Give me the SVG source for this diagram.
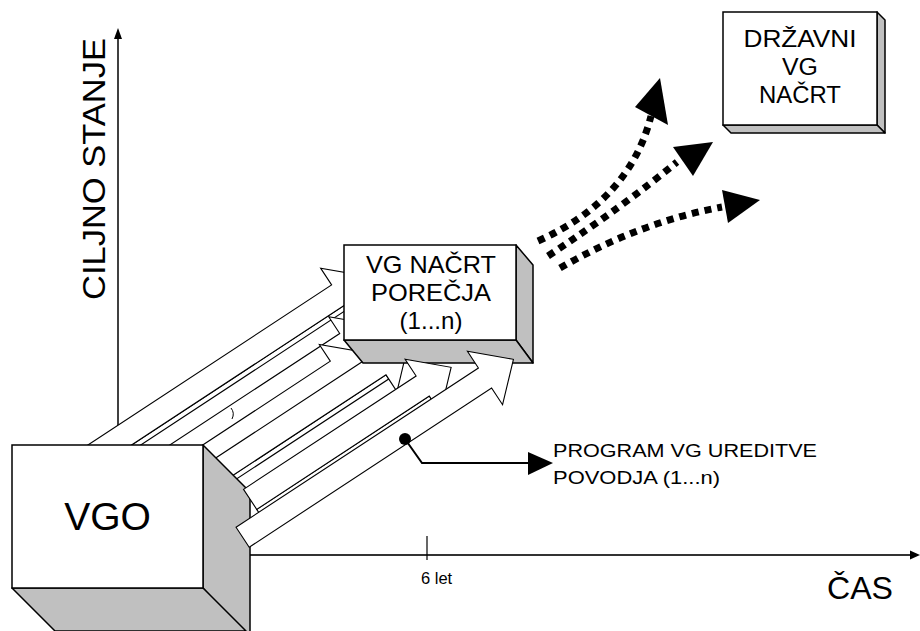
<svg xmlns="http://www.w3.org/2000/svg" width="920" height="631" viewBox="0 0 920 631">
<style>
text{font-family:"Liberation Sans",Arial,sans-serif;fill:#000}
.face{fill:#fff;stroke:#000;stroke-width:1.5}
.shade{fill:#c0c0c0;stroke:#000;stroke-width:1.5;stroke-linejoin:round}
.arr{fill:#fff;stroke:#000;stroke-width:1.1;stroke-linejoin:miter}
.dot{fill:none;stroke:#000;stroke-width:7;stroke-dasharray:7 6}
</style>
<rect width="920" height="631" fill="#fff"/>
<g id="axes">
  <line x1="118" y1="445" x2="118" y2="36" stroke="#000" stroke-width="1.5"/>
  <polygon points="118,28 114,39 122,39" fill="#000"/>
  <line x1="250" y1="555" x2="912" y2="555" stroke="#333" stroke-width="2.2"/>
  <polygon points="920,555 910,550.5 910,559.5" fill="#000"/>
  <line x1="427" y1="536" x2="427" y2="560" stroke="#000" stroke-width="1.2"/>
  <text x="421" y="584" font-size="16.5">6 let</text>
  <text x="827" y="599" font-size="32" textLength="66" lengthAdjust="spacingAndGlyphs">ČAS</text>
  <text transform="translate(105,300) rotate(-90)" font-size="31" textLength="262" lengthAdjust="spacingAndGlyphs">CILJNO STANJE</text>
</g>
<g id="connectors">
  <g id="arrow-back">
    <g transform="translate(338.2,294.9) rotate(-33.3)">
      <polygon class="arr" points="-323,12 0,12 0,17 -323,17"/>
      <polygon class="arr" points="-323,-12 0,-12 0,-32 34,0 0,32 0,12 -323,12"/>
    </g>
    <g transform="translate(346.3,343.5) rotate(-33.3)">
      <polygon class="arr" points="-303,12 0,12 0,17 -303,17"/>
      <polygon class="arr" points="-303,-12 0,-12 0,-32 34,0 0,32 0,12 -303,12"/>
    </g>
    <g transform="translate(336.9,371.2) rotate(-33.3)">
      <polygon class="arr" points="-280,12 0,12 0,17 -280,17"/>
      <polygon class="arr" points="-280,-12 0,-12 0,-32 34,0 0,32 0,12 -280,12"/>
    </g>
    <g transform="translate(379.4,364.8) rotate(-33.3)">
      <polygon class="arr" points="-319,12 0,12 0,17 -319,17"/>
      <polygon class="arr" points="-319,-12 0,-12 0,-32 34,0 0,32 0,12 -319,12"/>
    </g>
    <path d="M231,408 q4,5 1,11" fill="none" stroke="#000" stroke-width="1"/>
  </g>
</g>
<g id="vgo">
  <polygon class="shade" points="203,445 250,492 250,640 203,588"/>
  <polygon class="shade" points="12,588 203,588 246,631 55,631"/>
  <rect class="face" x="12" y="445" width="191" height="143"/>
  <text x="107.5" y="530" font-size="39" text-anchor="middle">VGO</text>
</g>
<g id="vg-nacrt-porecja">
  <polygon class="shade" points="516,245 533,265 533,363 516,340"/>
  <polygon class="shade" points="344,340 516,340 533,363 363,363"/>
  <rect class="face" x="344" y="245" width="172" height="95"/>
  <text x="431" y="273" font-size="24" text-anchor="middle" textLength="130" lengthAdjust="spacingAndGlyphs">VG NAČRT</text>
  <text x="431" y="301" font-size="24" text-anchor="middle" textLength="120" lengthAdjust="spacingAndGlyphs">POREČJA</text>
  <text x="431" y="329" font-size="24" text-anchor="middle" textLength="63" lengthAdjust="spacingAndGlyphs">(1...n)</text>
</g>
<g id="connectors-front">
  <g transform="translate(422.7,386.0) rotate(-33.3)">
    <polygon class="arr" points="-206.5,12 0,12 0,17 -206.5,17"/>
    <polygon class="arr" points="-206.5,-12 0,-12 0,-32 34,0 0,32 0,12 -206.5,12"/>
  </g>
  <g transform="translate(485,378) rotate(-33.3)">
    <polygon class="arr" points="-290,-12 0,-12 0,-32 34,0 0,32 0,12 -290,12"/>
  </g>
  <g id="program-pointer">
    <circle cx="405" cy="439" r="6" fill="#000"/>
    <polyline points="405,439 422,463 530,463" fill="none" stroke="#000" stroke-width="2"/>
    <polygon points="528,452 553,463 528,475" fill="#000"/>
  </g>
  <g id="dotted">
    <path class="dot" d="M538,241 Q630,200 651,116"/>
    <polygon points="660,78 635,107 668,125" fill="#000"/>
    <path class="dot" d="M548,256 Q625,205 677,162"/>
    <polygon points="713,142 673,147 693,176" fill="#000"/>
    <path class="dot" d="M560,268 Q640,222 722,207"/>
    <polygon points="760,200 722,190 728,223" fill="#000"/>
  </g>
</g>
<g id="program-label">
  <text x="553" y="457" font-size="18.5" textLength="264" lengthAdjust="spacingAndGlyphs">PROGRAM VG UREDITVE</text>
  <text x="553" y="484" font-size="18.5" textLength="167" lengthAdjust="spacingAndGlyphs">POVODJA (1...n)</text>
</g>
<g id="drzavni-vg-nacrt">
  <polygon class="shade" points="877,12 885,20 885,133 877,125"/>
  <polygon class="shade" points="723,125 877,125 885,133 731,133"/>
  <rect class="face" x="723" y="12" width="154" height="113"/>
  <text x="800" y="47" font-size="23" text-anchor="middle" textLength="113" lengthAdjust="spacingAndGlyphs">DRŽAVNI</text>
  <text x="800" y="75" font-size="23" text-anchor="middle" textLength="36" lengthAdjust="spacingAndGlyphs">VG</text>
  <text x="800" y="103" font-size="23" text-anchor="middle" textLength="82" lengthAdjust="spacingAndGlyphs">NAČRT</text>
</g>
</svg>
